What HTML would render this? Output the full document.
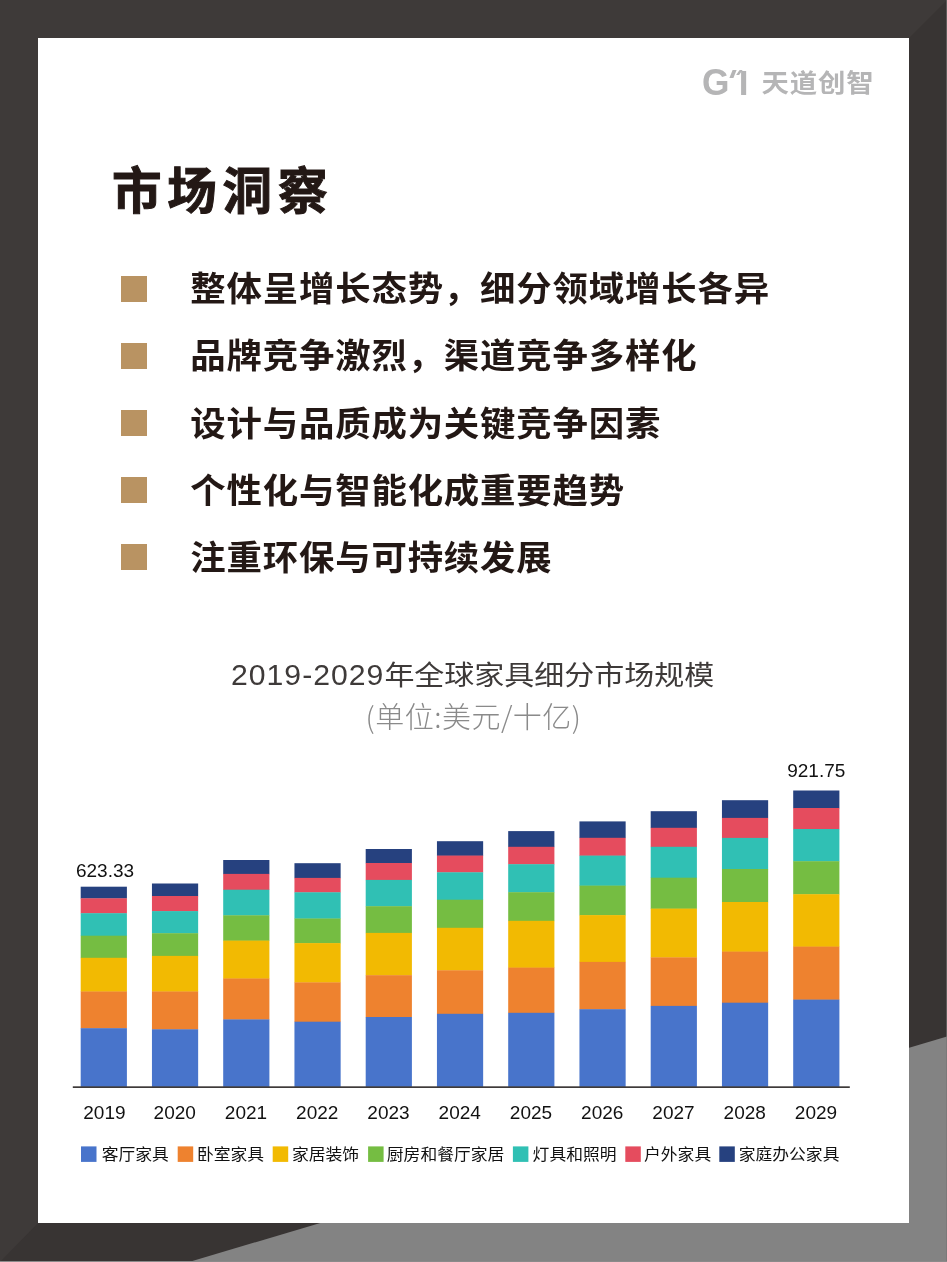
<!DOCTYPE html>
<html lang="zh-CN">
<head>
<meta charset="utf-8">
<title>市场洞察</title>
<style>
html,body{margin:0;padding:0;}
body{width:947px;height:1262px;overflow:hidden;background:#3e3a39;position:relative;font-family:"Liberation Sans","Noto Sans CJK SC",sans-serif;}
.abs{position:absolute;}
#page{position:absolute;left:0;top:0;width:947px;height:1262px;overflow:hidden;will-change:transform;}
#frame{position:absolute;left:0;top:0;width:947px;height:1262px;}
#card{position:absolute;left:38px;top:38px;width:870.6px;height:1185px;background:#fff;}
#title{position:absolute;left:112px;top:151.5px;font-size:49.5px;line-height:80px;font-weight:700;color:#231815;white-space:nowrap;letter-spacing:5.8px;-webkit-text-stroke:1px #231815;transform-origin:0 62px;transform:scaleY(1.015);}
.sq{position:absolute;left:120.8px;width:26.2px;height:26px;background:#b99362;}
.bt{position:absolute;left:190.2px;font-size:35.4px;line-height:52px;font-weight:700;color:#231815;white-space:nowrap;letter-spacing:.85px;transform-origin:0 41.8px;transform:scaleY(.975);}
#ct{position:absolute;left:37.2px;width:871px;top:653.1px;text-align:center;font-size:30px;line-height:44px;color:#3e3a39;white-space:nowrap;}
#ct .d{letter-spacing:1px;font-size:30.2px;}
#ct .c{display:inline-block;transform-origin:50% 35px;transform:scaleY(.92);}
#cs{position:absolute;left:38px;width:871px;top:692.5px;text-align:center;font-size:29px;letter-spacing:.5px;line-height:44px;color:#8a8a8a;font-weight:300;white-space:nowrap;font-family:"Noto Sans CJK SC","Liberation Sans",sans-serif;}
svg text.ax{font-size:19px;fill:#111;font-family:"Liberation Sans","Noto Sans CJK SC",sans-serif;}
svg text.lg{font-size:16.8px;fill:#111;font-family:"Liberation Sans","Noto Sans CJK SC",sans-serif;}
#logo{position:absolute;left:700px;top:60px;width:180px;height:45px;color:#b5b5b6;}
#logo .g{position:absolute;left:1.5px;top:3.2px;font-size:36px;line-height:40px;font-weight:700;transform-origin:0 0;transform:scaleX(.98);}
#logo .tk{position:absolute;left:30.7px;top:10px;margin-top:-0.5px;width:3.6px;height:8px;background:#b5b5b6;transform:skewX(-22deg);}
#logo .i{position:absolute;left:38.7px;top:2.6px;font-size:35px;line-height:40px;font-weight:700;}
#logo .fl{position:absolute;left:38.4px;top:10px;width:3.4px;height:4.6px;background:#b5b5b6;transform:skewX(-35deg);}
#logo .cn{position:absolute;left:61.5px;top:3px;font-size:27.4px;line-height:40px;font-weight:700;letter-spacing:.9px;white-space:nowrap;transform-origin:0 32px;transform:scaleY(.92);}
</style>
</head>
<body>
<div id="page">
<svg id="frame" width="947" height="1262" viewBox="0 0 947 1262">
<rect x="0" y="0" width="947" height="1262" fill="#3e3a39"/>
<polygon points="947,0 909,38 909,1223 38,1223 0,1262 947,1262" fill="#383433"/>
<polygon points="947,1036.4 189,1262 947,1262" fill="#838383"/>
<rect x="0" y="1261" width="947" height="1" fill="#8b8a8a"/>
<rect x="946" y="0" width="1" height="1261" fill="#757474" fill-opacity=".63"/>
</svg>
<div id="card"></div>
<div id="logo"><span class="g">G</span><span class="tk"></span><span class="fl"></span><span class="i">I</span><span class="cn">天道创智</span></div>
<div id="title">市场洞察</div>
<div class="sq" style="top:276.0px"></div><div class="bt" style="top:263.1px">整体呈增长态势，细分领域增长各异</div><div class="sq" style="top:343.1px"></div><div class="bt" style="top:330.4px">品牌竞争激烈，渠道竞争多样化</div><div class="sq" style="top:410.1px"></div><div class="bt" style="top:397.7px">设计与品质成为关键竞争因素</div><div class="sq" style="top:477.2px"></div><div class="bt" style="top:465.0px">个性化与智能化成重要趋势</div><div class="sq" style="top:544.3px"></div><div class="bt" style="top:532.3px">注重环保与可持续发展</div>
<div id="ct"><span class="d">2019-2029</span><span class="c">年全球家具细分市场规模</span></div>
<div id="cs">(单位:美元/十亿)</div>
<svg class="abs" style="left:0;top:0" width="947" height="1262" viewBox="0 0 947 1262">
<rect x="80.70" y="886.70" width="46.2" height="11.90" fill="#26417f"/>
<rect x="80.70" y="898.30" width="46.2" height="15.20" fill="#e54c5e"/>
<rect x="80.70" y="913.20" width="46.2" height="22.80" fill="#30c0b4"/>
<rect x="80.70" y="935.70" width="46.2" height="22.40" fill="#75bd42"/>
<rect x="80.70" y="957.80" width="46.2" height="34.00" fill="#f2ba02"/>
<rect x="80.70" y="991.50" width="46.2" height="37.00" fill="#ee822f"/>
<rect x="80.70" y="1028.20" width="46.2" height="58.70" fill="#4874cb"/>
<rect x="151.95" y="883.50" width="46.2" height="12.80" fill="#26417f"/>
<rect x="151.95" y="896.00" width="46.2" height="15.40" fill="#e54c5e"/>
<rect x="151.95" y="911.10" width="46.2" height="22.40" fill="#30c0b4"/>
<rect x="151.95" y="933.20" width="46.2" height="23.00" fill="#75bd42"/>
<rect x="151.95" y="955.90" width="46.2" height="35.90" fill="#f2ba02"/>
<rect x="151.95" y="991.50" width="46.2" height="38.10" fill="#ee822f"/>
<rect x="151.95" y="1029.30" width="46.2" height="57.60" fill="#4874cb"/>
<rect x="223.20" y="860.00" width="46.2" height="14.20" fill="#26417f"/>
<rect x="223.20" y="873.90" width="46.2" height="16.10" fill="#e54c5e"/>
<rect x="223.20" y="889.70" width="46.2" height="25.90" fill="#30c0b4"/>
<rect x="223.20" y="915.30" width="46.2" height="25.60" fill="#75bd42"/>
<rect x="223.20" y="940.60" width="46.2" height="38.20" fill="#f2ba02"/>
<rect x="223.20" y="978.50" width="46.2" height="41.20" fill="#ee822f"/>
<rect x="223.20" y="1019.40" width="46.2" height="67.50" fill="#4874cb"/>
<rect x="294.45" y="863.20" width="46.2" height="15.00" fill="#26417f"/>
<rect x="294.45" y="877.90" width="46.2" height="14.70" fill="#e54c5e"/>
<rect x="294.45" y="892.30" width="46.2" height="26.50" fill="#30c0b4"/>
<rect x="294.45" y="918.50" width="46.2" height="24.90" fill="#75bd42"/>
<rect x="294.45" y="943.10" width="46.2" height="39.60" fill="#f2ba02"/>
<rect x="294.45" y="982.40" width="46.2" height="39.60" fill="#ee822f"/>
<rect x="294.45" y="1021.70" width="46.2" height="65.20" fill="#4874cb"/>
<rect x="365.70" y="849.00" width="46.2" height="14.30" fill="#26417f"/>
<rect x="365.70" y="863.00" width="46.2" height="17.20" fill="#e54c5e"/>
<rect x="365.70" y="879.90" width="46.2" height="26.60" fill="#30c0b4"/>
<rect x="365.70" y="906.20" width="46.2" height="27.00" fill="#75bd42"/>
<rect x="365.70" y="932.90" width="46.2" height="42.60" fill="#f2ba02"/>
<rect x="365.70" y="975.20" width="46.2" height="42.10" fill="#ee822f"/>
<rect x="365.70" y="1017.00" width="46.2" height="69.90" fill="#4874cb"/>
<rect x="436.95" y="841.20" width="46.2" height="14.70" fill="#26417f"/>
<rect x="436.95" y="855.60" width="46.2" height="17.00" fill="#e54c5e"/>
<rect x="436.95" y="872.30" width="46.2" height="27.70" fill="#30c0b4"/>
<rect x="436.95" y="899.70" width="46.2" height="28.40" fill="#75bd42"/>
<rect x="436.95" y="927.80" width="46.2" height="42.80" fill="#f2ba02"/>
<rect x="436.95" y="970.30" width="46.2" height="43.80" fill="#ee822f"/>
<rect x="436.95" y="1013.80" width="46.2" height="73.10" fill="#4874cb"/>
<rect x="508.20" y="831.10" width="46.2" height="16.00" fill="#26417f"/>
<rect x="508.20" y="846.80" width="46.2" height="17.70" fill="#e54c5e"/>
<rect x="508.20" y="864.20" width="46.2" height="28.30" fill="#30c0b4"/>
<rect x="508.20" y="892.20" width="46.2" height="28.90" fill="#75bd42"/>
<rect x="508.20" y="920.80" width="46.2" height="47.10" fill="#f2ba02"/>
<rect x="508.20" y="967.60" width="46.2" height="45.50" fill="#ee822f"/>
<rect x="508.20" y="1012.80" width="46.2" height="74.10" fill="#4874cb"/>
<rect x="579.45" y="821.40" width="46.2" height="16.70" fill="#26417f"/>
<rect x="579.45" y="837.80" width="46.2" height="18.10" fill="#e54c5e"/>
<rect x="579.45" y="855.60" width="46.2" height="30.30" fill="#30c0b4"/>
<rect x="579.45" y="885.60" width="46.2" height="29.80" fill="#75bd42"/>
<rect x="579.45" y="915.10" width="46.2" height="47.10" fill="#f2ba02"/>
<rect x="579.45" y="961.90" width="46.2" height="47.60" fill="#ee822f"/>
<rect x="579.45" y="1009.20" width="46.2" height="77.70" fill="#4874cb"/>
<rect x="650.70" y="811.20" width="46.2" height="16.90" fill="#26417f"/>
<rect x="650.70" y="827.80" width="46.2" height="19.30" fill="#e54c5e"/>
<rect x="650.70" y="846.80" width="46.2" height="31.20" fill="#30c0b4"/>
<rect x="650.70" y="877.70" width="46.2" height="31.20" fill="#75bd42"/>
<rect x="650.70" y="908.60" width="46.2" height="49.10" fill="#f2ba02"/>
<rect x="650.70" y="957.40" width="46.2" height="48.80" fill="#ee822f"/>
<rect x="650.70" y="1005.90" width="46.2" height="81.00" fill="#4874cb"/>
<rect x="721.95" y="800.20" width="46.2" height="18.00" fill="#26417f"/>
<rect x="721.95" y="817.90" width="46.2" height="20.30" fill="#e54c5e"/>
<rect x="721.95" y="837.90" width="46.2" height="31.40" fill="#30c0b4"/>
<rect x="721.95" y="869.00" width="46.2" height="33.30" fill="#75bd42"/>
<rect x="721.95" y="902.00" width="46.2" height="49.90" fill="#f2ba02"/>
<rect x="721.95" y="951.60" width="46.2" height="51.40" fill="#ee822f"/>
<rect x="721.95" y="1002.70" width="46.2" height="84.20" fill="#4874cb"/>
<rect x="793.20" y="790.50" width="46.2" height="17.80" fill="#26417f"/>
<rect x="793.20" y="808.00" width="46.2" height="21.30" fill="#e54c5e"/>
<rect x="793.20" y="829.00" width="46.2" height="32.50" fill="#30c0b4"/>
<rect x="793.20" y="861.20" width="46.2" height="33.30" fill="#75bd42"/>
<rect x="793.20" y="894.20" width="46.2" height="52.70" fill="#f2ba02"/>
<rect x="793.20" y="946.60" width="46.2" height="53.30" fill="#ee822f"/>
<rect x="793.20" y="999.60" width="46.2" height="87.30" fill="#4874cb"/>
<rect x="72.8" y="1086.3" width="777" height="1.7" fill="#3e3a39"/>
<text x="104.40" y="1118.9" text-anchor="middle" class="ax">2019</text>
<text x="174.75" y="1118.9" text-anchor="middle" class="ax">2020</text>
<text x="246.00" y="1118.9" text-anchor="middle" class="ax">2021</text>
<text x="317.25" y="1118.9" text-anchor="middle" class="ax">2022</text>
<text x="388.50" y="1118.9" text-anchor="middle" class="ax">2023</text>
<text x="459.75" y="1118.9" text-anchor="middle" class="ax">2024</text>
<text x="531.00" y="1118.9" text-anchor="middle" class="ax">2025</text>
<text x="602.25" y="1118.9" text-anchor="middle" class="ax">2026</text>
<text x="673.50" y="1118.9" text-anchor="middle" class="ax">2027</text>
<text x="744.75" y="1118.9" text-anchor="middle" class="ax">2028</text>
<text x="816.00" y="1118.9" text-anchor="middle" class="ax">2029</text>
<text x="105" y="876.8" text-anchor="middle" class="ax">623.33</text>
<text x="816.3" y="777.2" text-anchor="middle" class="ax">921.75</text>
<rect x="81.00" y="1146.4" width="15.5" height="15.5" fill="#4874cb"/>
<text transform="translate(101.70,1160.4) scale(1,0.94)" class="lg">客厅家具</text>
<rect x="177.70" y="1146.4" width="15.5" height="15.5" fill="#ee822f"/>
<text transform="translate(196.90,1160.4) scale(1,0.94)" class="lg">卧室家具</text>
<rect x="272.70" y="1146.4" width="15.5" height="15.5" fill="#f2ba02"/>
<text transform="translate(291.90,1160.4) scale(1,0.94)" class="lg">家居装饰</text>
<rect x="368.10" y="1146.4" width="15.5" height="15.5" fill="#75bd42"/>
<text transform="translate(386.80,1160.4) scale(1,0.94)" class="lg">厨房和餐厅家居</text>
<rect x="512.90" y="1146.4" width="15.5" height="15.5" fill="#30c0b4"/>
<text transform="translate(532.60,1160.4) scale(1,0.94)" class="lg">灯具和照明</text>
<rect x="625.30" y="1146.4" width="15.5" height="15.5" fill="#e54c5e"/>
<text transform="translate(644.00,1160.4) scale(1,0.94)" class="lg">户外家具</text>
<rect x="719.30" y="1146.4" width="15.5" height="15.5" fill="#26417f"/>
<text transform="translate(738.70,1160.4) scale(1,0.94)" class="lg">家庭办公家具</text>
</svg>
</div>
</body>
</html>
